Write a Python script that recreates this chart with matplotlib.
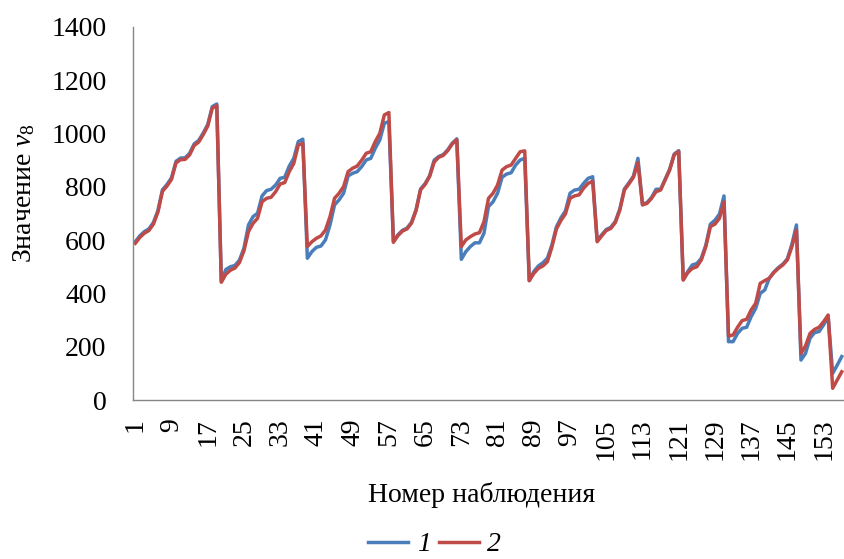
#Two series of observed values v8 by observation number
import matplotlib
matplotlib.use("Agg")
import matplotlib.pyplot as plt
import numpy as np

plt.rcParams["font.family"] = ["Liberation Serif", "DejaVu Serif"]
plt.rcParams["mathtext.fontset"] = "custom"
plt.rcParams["mathtext.rm"] = "Liberation Serif"
plt.rcParams["mathtext.it"] = "Liberation Serif:italic"

series_1 = [594, 616, 632, 642, 666, 711, 789, 809, 834, 896, 908, 909, 926, 961, 974, 1002, 1034, 1101, 1111,
            445, 490, 500, 505, 525, 570, 657, 688, 701, 766, 786, 791, 807, 832, 836, 878, 907, 970, 979,
            532, 557, 573, 578, 601, 657, 732, 751, 776, 841, 851, 857, 876, 901, 907, 945, 976, 1039, 1045,
            595, 620, 637, 645, 667, 714, 792, 812, 842, 900, 914, 921, 939, 964, 980,
            528, 557, 576, 590, 590, 626, 726, 744, 776, 836, 848, 853, 882, 901, 907,
            448, 482, 503, 515, 532, 582, 650, 684, 710, 776, 788, 791, 813, 832, 838,
            598, 620, 640, 648, 670, 717, 792, 815, 840, 907, 735, 741, 760, 791, 791, 829, 866, 923, 936,
            452, 482, 507, 512, 532, 582, 660, 675, 698, 766,
            219, 219, 250, 269, 273, 313, 344, 400, 413, 457, 480, 497, 510, 530, 585, 657,
            150, 175, 232, 253, 257, 282, 313, 100, 131, 163]
series_2 = [588, 610, 626, 636, 660, 705, 783, 803, 828, 890, 902, 903, 920, 955, 968, 996, 1028, 1095, 1105,
            442, 472, 487, 495, 516, 560, 632, 663, 682, 744, 757, 761, 782, 811, 816, 857, 888, 957, 963,
            576, 594, 607, 616, 638, 688, 757, 776, 801, 857, 870, 878, 900, 926, 932, 970, 1001, 1070, 1079,
            592, 617, 634, 642, 664, 711, 789, 809, 839, 893, 911, 918, 936, 961, 977,
            576, 601, 613, 623, 628, 669, 757, 776, 807, 863, 876, 882, 907, 932, 935,
            448, 475, 494, 503, 519, 574, 642, 674, 699, 757, 766, 770, 795, 813, 821,
            594, 616, 636, 644, 666, 713, 788, 811, 836, 891, 732, 738, 757, 782, 788, 826, 863, 920, 933,
            450, 478, 494, 500, 526, 576, 651, 660, 682, 744,
            240, 244, 273, 298, 303, 338, 363, 438, 448, 457, 478, 494, 507, 526, 576, 638,
            175, 203, 250, 265, 273, 294, 319, 44, 75, 106]
obs = np.arange(1, len(series_1) + 1)
tick_obs = obs[::8]

fig = plt.figure(figsize=(8.44, 5.59), dpi=100)
ax = fig.add_axes([133/844, 1 - 400/559, 1 - 133/844, 373/559])

ax.plot(obs, series_1, color="#4A7EBB", lw=2.5, label="1")
ax.plot(obs, series_2, color="#BE4B48", lw=2.5, label="2")

ax.set_xlim(0.5, len(obs) + 0.5)
ax.set_ylim(0, 1400)
ax.set_yticks(range(0, 1401, 200))
ax.set_xticks(tick_obs)
ax.set_xticklabels([str(t) for t in tick_obs], rotation=90)
ax.tick_params(axis="y", length=0, pad=19, labelsize=20)
ax.tick_params(axis="x", length=0, pad=13, labelsize=20)

for s in ["top", "right"]:
    ax.spines[s].set_visible(False)
for s in ["left", "bottom"]:
    ax.spines[s].set_color("#868686")
    ax.spines[s].set_linewidth(1.0)

ax.set_xlabel("Номер наблюдения", fontsize=20)
ax.set_ylabel("Значение $v_8$", fontsize=20)
ax.xaxis.set_label_coords(0.49, -0.22)
ax.yaxis.set_label_coords(-0.135, 0.555)

fig.legend(loc="lower center", bbox_to_anchor=(0.515, -0.042), ncol=2, frameon=False,
           prop={"family": "Liberation Serif", "style": "italic", "size": 20},
           handlelength=1.45, handletextpad=0.3, columnspacing=0.3)

fig.savefig("out.png", dpi=100)
